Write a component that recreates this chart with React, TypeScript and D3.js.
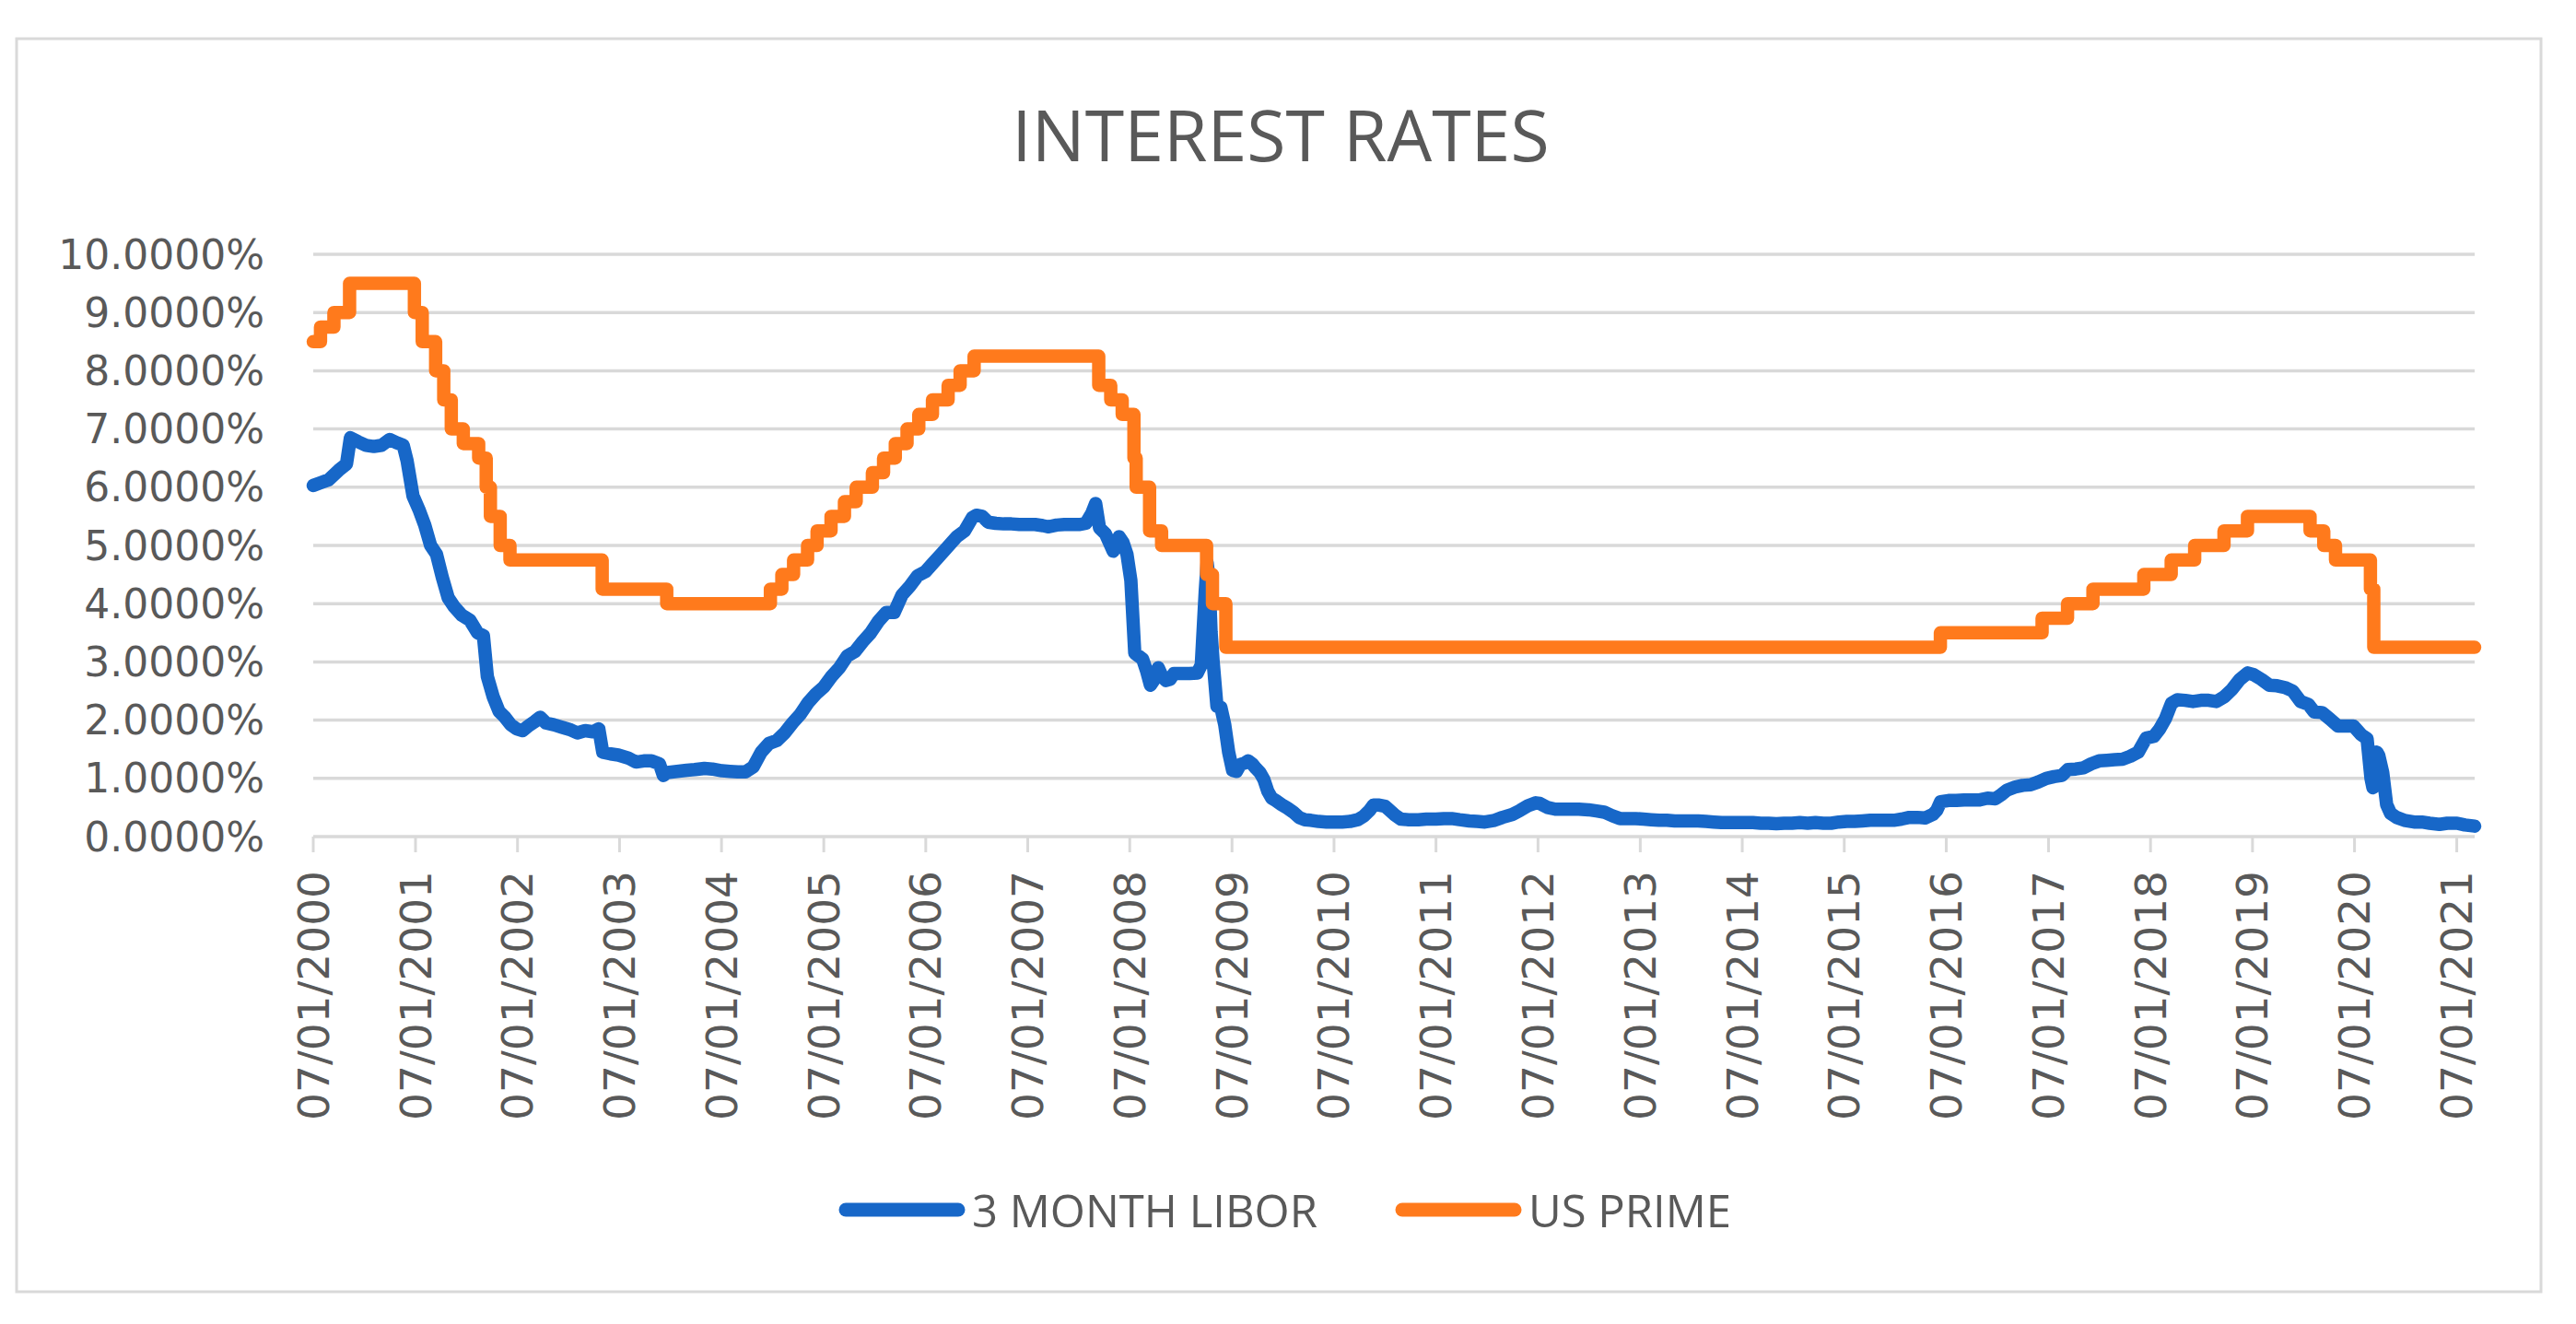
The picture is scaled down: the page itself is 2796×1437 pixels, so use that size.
import { useEffect, useRef } from "react";
import * as d3 from "d3";

// 3 month LIBOR (date, % rate)
const libor: [string, number][] = [
  ["2000-01-07", 6.03], ["2000-02-04", 6.08], ["2000-03-03", 6.13], ["2000-04-07", 6.29],
  ["2000-05-05", 6.4], ["2000-05-19", 6.85], ["2000-06-16", 6.78], ["2000-07-14", 6.72],
  ["2000-08-11", 6.7], ["2000-09-08", 6.72], ["2000-10-06", 6.82], ["2000-11-03", 6.76],
  ["2000-11-24", 6.72], ["2000-12-08", 6.45], ["2000-12-29", 5.85], ["2001-01-19", 5.62],
  ["2001-02-09", 5.35], ["2001-03-02", 5.0], ["2001-03-23", 4.85], ["2001-04-13", 4.45],
  ["2001-05-04", 4.1], ["2001-05-25", 3.95], ["2001-06-22", 3.8], ["2001-07-20", 3.72],
  ["2001-08-17", 3.5], ["2001-09-07", 3.45], ["2001-09-21", 2.75], ["2001-10-12", 2.4],
  ["2001-11-02", 2.15], ["2001-11-23", 2.05], ["2001-12-14", 1.92], ["2002-01-04", 1.85],
  ["2002-01-25", 1.82], ["2002-02-15", 1.9], ["2002-03-08", 1.97], ["2002-03-29", 2.05],
  ["2002-04-19", 1.95], ["2002-05-17", 1.92], ["2002-06-14", 1.88], ["2002-07-12", 1.84],
  ["2002-08-09", 1.78], ["2002-09-06", 1.82], ["2002-10-04", 1.8], ["2002-10-25", 1.85],
  ["2002-11-08", 1.45], ["2002-12-06", 1.42], ["2003-01-03", 1.4], ["2003-02-07", 1.35],
  ["2003-03-07", 1.28], ["2003-04-04", 1.3], ["2003-05-02", 1.3], ["2003-05-30", 1.25],
  ["2003-06-13", 1.05], ["2003-06-27", 1.1], ["2003-08-01", 1.12], ["2003-09-05", 1.14],
  ["2003-10-03", 1.15], ["2003-11-07", 1.17], ["2003-12-05", 1.16], ["2004-01-09", 1.13],
  ["2004-02-06", 1.12], ["2004-03-05", 1.11], ["2004-04-02", 1.11], ["2004-04-30", 1.2],
  ["2004-05-28", 1.45], ["2004-06-25", 1.6], ["2004-07-23", 1.65], ["2004-08-20", 1.78],
  ["2004-09-17", 1.95], ["2004-10-15", 2.1], ["2004-11-12", 2.3], ["2004-12-10", 2.45],
  ["2005-01-07", 2.57], ["2005-02-04", 2.75], ["2005-03-04", 2.9], ["2005-04-01", 3.1],
  ["2005-04-29", 3.18], ["2005-05-27", 3.35], ["2005-06-24", 3.5], ["2005-07-22", 3.7],
  ["2005-08-19", 3.85], ["2005-09-16", 3.85], ["2005-10-14", 4.15], ["2005-11-11", 4.3],
  ["2005-12-09", 4.48], ["2006-01-06", 4.55], ["2006-02-03", 4.7], ["2006-03-03", 4.85],
  ["2006-03-31", 5.0], ["2006-04-28", 5.15], ["2006-05-26", 5.25], ["2006-06-23", 5.48],
  ["2006-07-07", 5.52], ["2006-07-28", 5.5], ["2006-08-18", 5.4], ["2006-09-15", 5.38],
  ["2006-10-13", 5.37], ["2006-11-10", 5.37], ["2006-12-08", 5.36], ["2007-01-05", 5.36],
  ["2007-02-02", 5.36], ["2007-03-02", 5.34], ["2007-03-23", 5.32], ["2007-04-20", 5.35],
  ["2007-05-18", 5.36], ["2007-06-15", 5.36], ["2007-07-13", 5.36], ["2007-08-03", 5.38],
  ["2007-08-24", 5.55], ["2007-09-07", 5.72], ["2007-09-21", 5.3], ["2007-10-12", 5.2],
  ["2007-10-26", 5.05], ["2007-11-09", 4.9], ["2007-11-30", 5.15], ["2007-12-14", 5.05],
  ["2007-12-28", 4.85], ["2008-01-11", 4.4], ["2008-01-25", 3.15], ["2008-02-08", 3.1],
  ["2008-02-22", 3.05], ["2008-03-07", 2.85], ["2008-03-21", 2.6], ["2008-04-04", 2.7],
  ["2008-04-18", 2.9], ["2008-05-02", 2.75], ["2008-05-16", 2.68], ["2008-05-30", 2.7],
  ["2008-06-13", 2.8], ["2008-07-11", 2.8], ["2008-08-08", 2.8], ["2008-09-05", 2.81],
  ["2008-09-19", 2.95], ["2008-10-03", 4.2], ["2008-10-10", 4.7], ["2008-10-17", 4.42],
  ["2008-10-24", 3.52], ["2008-10-31", 3.03], ["2008-11-14", 2.24], ["2008-11-28", 2.22],
  ["2008-12-12", 1.92], ["2008-12-26", 1.45], ["2009-01-09", 1.14], ["2009-01-23", 1.12],
  ["2009-02-06", 1.24], ["2009-02-20", 1.26], ["2009-03-06", 1.3], ["2009-03-20", 1.25],
  ["2009-04-03", 1.17], ["2009-04-17", 1.1], ["2009-05-01", 0.98], ["2009-05-15", 0.78],
  ["2009-05-29", 0.66], ["2009-06-12", 0.62], ["2009-07-03", 0.55], ["2009-07-24", 0.49],
  ["2009-08-14", 0.42], ["2009-09-04", 0.33], ["2009-09-25", 0.29], ["2009-10-16", 0.28],
  ["2009-11-13", 0.26], ["2009-12-11", 0.25], ["2010-01-08", 0.25], ["2010-02-05", 0.25],
  ["2010-03-05", 0.26], ["2010-04-02", 0.29], ["2010-04-23", 0.35], ["2010-05-14", 0.45],
  ["2010-05-28", 0.54], ["2010-06-18", 0.54], ["2010-07-09", 0.52], ["2010-07-23", 0.46],
  ["2010-08-13", 0.37], ["2010-09-03", 0.3], ["2010-10-01", 0.29], ["2010-11-05", 0.29],
  ["2010-12-03", 0.3], ["2011-01-07", 0.3], ["2011-02-04", 0.31], ["2011-03-04", 0.31],
  ["2011-04-01", 0.29], ["2011-05-06", 0.27], ["2011-06-03", 0.26], ["2011-07-01", 0.25],
  ["2011-08-05", 0.28], ["2011-09-02", 0.33], ["2011-10-07", 0.38], ["2011-11-04", 0.45],
  ["2011-12-02", 0.53], ["2011-12-30", 0.58], ["2012-01-13", 0.57], ["2012-02-10", 0.5],
  ["2012-03-09", 0.47], ["2012-04-06", 0.47], ["2012-05-04", 0.47], ["2012-06-01", 0.47],
  ["2012-07-06", 0.46], ["2012-08-03", 0.44], ["2012-08-31", 0.42], ["2012-09-28", 0.36],
  ["2012-10-26", 0.31], ["2012-11-23", 0.31], ["2012-12-21", 0.31], ["2013-01-18", 0.3],
  ["2013-02-15", 0.29], ["2013-03-15", 0.28], ["2013-04-12", 0.28], ["2013-05-10", 0.27],
  ["2013-06-07", 0.27], ["2013-07-05", 0.27], ["2013-08-02", 0.27], ["2013-08-30", 0.26],
  ["2013-09-27", 0.25], ["2013-10-25", 0.24], ["2013-11-22", 0.24], ["2013-12-20", 0.24],
  ["2014-01-17", 0.24], ["2014-02-14", 0.24], ["2014-03-14", 0.23], ["2014-04-11", 0.23],
  ["2014-05-09", 0.22], ["2014-06-06", 0.23], ["2014-07-04", 0.23], ["2014-08-01", 0.24],
  ["2014-08-29", 0.23], ["2014-09-26", 0.24], ["2014-10-24", 0.23], ["2014-11-21", 0.23],
  ["2014-12-19", 0.25], ["2015-01-16", 0.26], ["2015-02-13", 0.26], ["2015-03-13", 0.27],
  ["2015-04-10", 0.28], ["2015-05-08", 0.28], ["2015-06-05", 0.28], ["2015-07-03", 0.28],
  ["2015-07-31", 0.3], ["2015-08-28", 0.33], ["2015-09-25", 0.33], ["2015-10-23", 0.32],
  ["2015-11-20", 0.38], ["2015-12-04", 0.45], ["2015-12-18", 0.6], ["2016-01-15", 0.62],
  ["2016-02-12", 0.62], ["2016-03-11", 0.63], ["2016-04-08", 0.63], ["2016-05-06", 0.63],
  ["2016-06-03", 0.66], ["2016-07-01", 0.65], ["2016-07-22", 0.72], ["2016-08-12", 0.8],
  ["2016-09-09", 0.85], ["2016-10-07", 0.88], ["2016-11-04", 0.89], ["2016-12-02", 0.94],
  ["2016-12-30", 1.0], ["2017-01-27", 1.03], ["2017-02-24", 1.05], ["2017-03-17", 1.15],
  ["2017-04-14", 1.16], ["2017-05-12", 1.18], ["2017-06-09", 1.25], ["2017-07-07", 1.3],
  ["2017-08-04", 1.31], ["2017-09-01", 1.32], ["2017-09-29", 1.33], ["2017-10-27", 1.38],
  ["2017-11-24", 1.45], ["2017-12-22", 1.69], ["2018-01-19", 1.72], ["2018-02-09", 1.85],
  ["2018-03-02", 2.03], ["2018-03-23", 2.29], ["2018-04-13", 2.35], ["2018-05-11", 2.34],
  ["2018-06-08", 2.32], ["2018-07-06", 2.34], ["2018-08-03", 2.34], ["2018-08-31", 2.32],
  ["2018-09-28", 2.4], ["2018-10-26", 2.53], ["2018-11-23", 2.7], ["2018-12-21", 2.81],
  ["2019-01-11", 2.78], ["2019-02-08", 2.7], ["2019-03-08", 2.6], ["2019-04-05", 2.59],
  ["2019-05-03", 2.56], ["2019-05-31", 2.5], ["2019-06-28", 2.32], ["2019-07-26", 2.27],
  ["2019-08-16", 2.14], ["2019-09-13", 2.13], ["2019-10-11", 2.02], ["2019-11-08", 1.9],
  ["2019-12-06", 1.9], ["2020-01-03", 1.9], ["2020-01-31", 1.75], ["2020-02-21", 1.68],
  ["2020-03-06", 1.0], ["2020-03-13", 0.84], ["2020-03-20", 1.2], ["2020-03-27", 1.45],
  ["2020-04-03", 1.39], ["2020-04-17", 1.1], ["2020-05-01", 0.55], ["2020-05-15", 0.4],
  ["2020-06-05", 0.33], ["2020-07-03", 0.28], ["2020-08-07", 0.25], ["2020-09-04", 0.25],
  ["2020-10-02", 0.23], ["2020-11-06", 0.21], ["2020-12-04", 0.23], ["2021-01-08", 0.23],
  ["2021-02-05", 0.2], ["2021-03-12", 0.18],
];

// US prime rate: date of each change and the new rate
const prime: [string, number][] = [
  ["2000-01-07", 8.5], ["2000-02-02", 8.75], ["2000-03-21", 9.0], ["2000-05-16", 9.5],
  ["2001-01-03", 9.0], ["2001-01-31", 8.5], ["2001-03-20", 8.0], ["2001-04-18", 7.5],
  ["2001-05-15", 7.0], ["2001-06-27", 6.75], ["2001-08-21", 6.5], ["2001-09-17", 6.0],
  ["2001-10-02", 5.5], ["2001-11-06", 5.0], ["2001-12-11", 4.75], ["2002-11-06", 4.25],
  ["2003-06-25", 4.0], ["2004-06-30", 4.25], ["2004-08-10", 4.5], ["2004-09-21", 4.75],
  ["2004-11-10", 5.0], ["2004-12-14", 5.25], ["2005-02-02", 5.5], ["2005-03-22", 5.75],
  ["2005-05-03", 6.0], ["2005-06-30", 6.25], ["2005-08-09", 6.5], ["2005-09-20", 6.75],
  ["2005-11-01", 7.0], ["2005-12-13", 7.25], ["2006-01-31", 7.5], ["2006-03-28", 7.75],
  ["2006-05-10", 8.0], ["2006-06-29", 8.25], ["2007-09-18", 7.75], ["2007-10-31", 7.5],
  ["2007-12-11", 7.25], ["2008-01-22", 6.5], ["2008-01-30", 6.0], ["2008-03-18", 5.25],
  ["2008-04-30", 5.0], ["2008-10-08", 4.5], ["2008-10-29", 4.0], ["2008-12-16", 3.25],
  ["2015-12-17", 3.5], ["2016-12-15", 3.75], ["2017-03-16", 4.0], ["2017-06-15", 4.25],
  ["2017-12-14", 4.5], ["2018-03-22", 4.75], ["2018-06-14", 5.0], ["2018-09-27", 5.25],
  ["2018-12-20", 5.5], ["2019-08-01", 5.25], ["2019-09-19", 5.0], ["2019-10-31", 4.75],
  ["2020-03-04", 4.25], ["2020-03-16", 3.25], ["2021-03-12", 3.25],
];

const yTicks = [0, 1, 2, 3, 4, 5, 6, 7, 8, 9, 10];
const tickYears = d3.range(2000, 2022);

const series = [
  { name: "3 MONTH LIBOR", data: libor, color: "#1767c8", step: false },
  { name: "US PRIME", data: prime, color: "#ff7a1c", step: true },
];

const W = 2796;
const H = 1437;
const TEXT = "#595959";
const GRID = "#d9d9d9";

export default function App() {
  const svgRef = useRef<SVGSVGElement>(null);

  useEffect(() => {
    const svg = d3.select(svgRef.current);
    svg.selectAll("*").remove();

    const parse = (s: string) => new Date(s + "T00:00:00Z");
    const x = d3
      .scaleUtc()
      .domain([parse("2000-01-07"), parse("2021-03-12")])
      .range([340, 2686]);
    const y = d3.scaleLinear().domain([0, 10]).range([908, 276]);

    svg.append("rect").attr("width", W).attr("height", H).attr("fill", "#fff");
    svg
      .append("rect")
      .attr("x", 18)
      .attr("y", 42)
      .attr("width", 2740)
      .attr("height", 1360)
      .attr("fill", "none")
      .attr("stroke", GRID)
      .attr("stroke-width", 3);

    svg
      .append("text")
      .attr("x", 1390)
      .attr("y", 175)
      .attr("text-anchor", "middle")
      .attr("font-family", "'Open Sans', sans-serif")
      .attr("font-size", 77)
      .attr("fill", TEXT)
      .text("INTEREST RATES");

    // gridlines + y labels
    const [x0, x1] = x.range();
    svg
      .append("g")
      .selectAll("line")
      .data(yTicks)
      .enter()
      .append("line")
      .attr("x1", x0)
      .attr("x2", x1)
      .attr("y1", (d) => y(d))
      .attr("y2", (d) => y(d))
      .attr("stroke", GRID)
      .attr("stroke-width", 3.5);

    svg
      .append("g")
      .selectAll("text")
      .data(yTicks)
      .enter()
      .append("text")
      .attr("x", 287)
      .attr("y", (d) => y(d))
      .attr("text-anchor", "end")
      .attr("dominant-baseline", "central")
      .attr("font-family", "'DejaVu Sans', sans-serif")
      .attr("font-size", 44)
      .attr("fill", TEXT)
      .text((d) => d3.format(".4f")(d) + "%");

    // x ticks and rotated date labels
    const fmt = d3.utcFormat("%d/%m/%Y");
    const tickDates = tickYears.map((yr) => new Date(Date.UTC(yr, 0, 7)));
    const xg = svg.append("g");
    xg.selectAll("line")
      .data(tickDates)
      .enter()
      .append("line")
      .attr("x1", (d) => x(d))
      .attr("x2", (d) => x(d))
      .attr("y1", y(0))
      .attr("y2", y(0) + 17)
      .attr("stroke", GRID)
      .attr("stroke-width", 3);
    xg.selectAll("text")
      .data(tickDates)
      .enter()
      .append("text")
      .attr("transform", (d) => `translate(${x(d)},945) rotate(-90)`)
      .attr("text-anchor", "end")
      .attr("dominant-baseline", "central")
      .attr("font-family", "'DejaVu Sans', sans-serif")
      .attr("font-size", 47)
      .attr("fill", TEXT)
      .text((d) => fmt(d));

    // series
    series.forEach((s) => {
      const line = d3
        .line<[string, number]>()
        .x((d) => x(parse(d[0])))
        .y((d) => y(d[1]))
        .curve(s.step ? d3.curveStepAfter : d3.curveLinear);
      svg
        .append("path")
        .datum(s.data)
        .attr("d", line)
        .attr("fill", "none")
        .attr("stroke", s.color)
        .attr("stroke-width", 14.5)
        .attr("stroke-linejoin", "round")
        .attr("stroke-linecap", "round");
    });

    // legend
    const legendX = [918, 1522];
    series.forEach((s, i) => {
      const lx = legendX[i];
      svg
        .append("line")
        .attr("x1", lx)
        .attr("x2", lx + 122)
        .attr("y1", 1313)
        .attr("y2", 1313)
        .attr("stroke", s.color)
        .attr("stroke-width", 15)
        .attr("stroke-linecap", "round");
      svg
        .append("text")
        .attr("x", lx + 137)
        .attr("y", 1313)
        .attr("dominant-baseline", "central")
        .attr("font-family", "'Open Sans', sans-serif")
        .attr("font-size", 49)
        .attr("fill", TEXT)
        .text(s.name);
    });
  }, []);

  return (
    <svg
      ref={svgRef}
      width={W}
      height={H}
      style={{ position: "absolute", left: 0, top: 0 }}
    />
  );
}
